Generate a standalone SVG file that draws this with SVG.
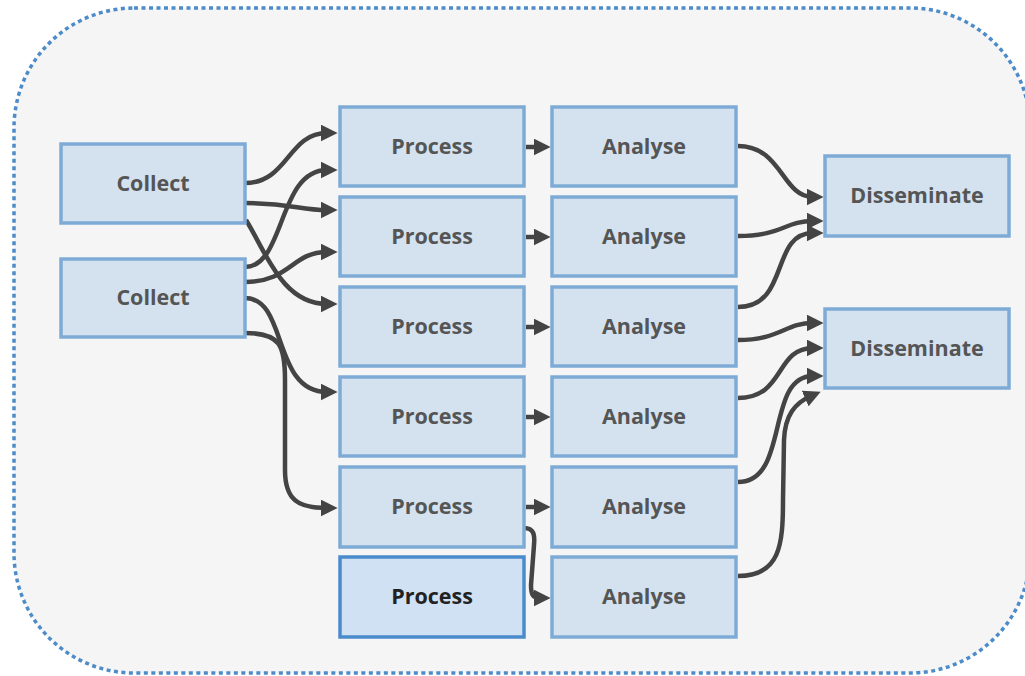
<svg xmlns="http://www.w3.org/2000/svg" width="1025" height="676" viewBox="0 0 1025 676">
<style>
.box{fill:#d4e2ef;stroke:#7eabd6;stroke-width:3.5}
.box.sel{fill:#cfe1f3;stroke:#4a8bcb}
.lbl{font-family:"Open Sans","Noto Sans",sans-serif;font-weight:bold;font-size:21.5px;fill:#555;text-anchor:middle}
.lbl.sel{fill:#222}
.edge{fill:none;stroke:#444;stroke-width:4.5}
</style>
<defs>
<marker id="ah" viewBox="0 0 16 16" refX="6" refY="8" markerWidth="17" markerHeight="17" markerUnits="userSpaceOnUse" orient="auto">
<path d="M0,0 L16,8 L0,16 z" fill="#444"/>
</marker>
</defs>
<rect x="0" y="0" width="1025" height="676" fill="#ffffff"/>
<rect id="frame" x="14" y="8" width="1016" height="665" rx="120" ry="120" fill="#f5f5f5" stroke="#4d8cc9" stroke-width="3.5" stroke-dasharray="4 3.5"/>
<g id="connectors">
<path class="edge" marker-end="url(#ah)" d="M245,183 C288,183 288,133 327,133"/>
<path class="edge" marker-end="url(#ah)" d="M245,203 C290,203 300,210 327,210"/>
<path class="edge" marker-end="url(#ah)" d="M246,220 C266,252 282,304 327,304"/>
<path class="edge" marker-end="url(#ah)" d="M245,267 C285,267 278,170 327,170"/>
<path class="edge" marker-end="url(#ah)" d="M245,282 C290,282 292,252 327,252"/>
<path class="edge" marker-end="url(#ah)" d="M245,298 C288,298 272,392 327,392"/>
<path class="edge" marker-end="url(#ah)" d="M245,333 C280,333 285,345 285,380 L285,470 C285,500 298,508 327,508"/>
<path class="edge" marker-end="url(#ah)" d="M526,147 L540,147"/>
<path class="edge" marker-end="url(#ah)" d="M526,237 L540,237"/>
<path class="edge" marker-end="url(#ah)" d="M526,327 L540,327"/>
<path class="edge" marker-end="url(#ah)" d="M526,417 L540,417"/>
<path class="edge" marker-end="url(#ah)" d="M526,507 L540,507"/>
<path class="edge" marker-end="url(#ah)" d="M524,528 C534,528 535,535 534,545 L531,585 C531,595 533,598 540,598"/>
<path class="edge" marker-end="url(#ah)" d="M738,146 C782,146 782,197 813,197"/>
<path class="edge" marker-end="url(#ah)" d="M738,236 C782,236 785,221 813,221"/>
<path class="edge" marker-end="url(#ah)" d="M738,307 C790,307 770,233 813,233"/>
<path class="edge" marker-end="url(#ah)" d="M738,340 C780,340 785,323 813,323"/>
<path class="edge" marker-end="url(#ah)" d="M738,398 C785,398 775,348 813,348"/>
<path class="edge" marker-end="url(#ah)" d="M738,482 C790,482 765,376 813,376"/>
<path class="edge" marker-end="url(#ah)" d="M738,576 C780,576 783,545 783,500 L784,440 C785,415 795,403 811,396"/>
</g>
<g id="collect1"><rect class="box" x="61" y="144" width="184" height="79"/><text class="lbl" x="153" y="191">Collect</text></g>
<g id="collect2"><rect class="box" x="61" y="259" width="184" height="78"/><text class="lbl" x="153" y="305">Collect</text></g>
<g id="process1"><rect class="box" x="340" y="107" width="184" height="79"/><text class="lbl" x="432" y="154">Process</text></g>
<g id="process2"><rect class="box" x="340" y="197" width="184" height="79"/><text class="lbl" x="432" y="244">Process</text></g>
<g id="process3"><rect class="box" x="340" y="287" width="184" height="79"/><text class="lbl" x="432" y="334">Process</text></g>
<g id="process4"><rect class="box" x="340" y="377" width="184" height="79"/><text class="lbl" x="432" y="424">Process</text></g>
<g id="process5"><rect class="box" x="340" y="467" width="184" height="80"/><text class="lbl" x="432" y="514">Process</text></g>
<g id="process6"><rect class="box sel" x="340" y="557" width="184" height="80"/><text class="lbl sel" x="432" y="604">Process</text></g>
<g id="analyse1"><rect class="box" x="552" y="107" width="184" height="79"/><text class="lbl" x="644" y="154">Analyse</text></g>
<g id="analyse2"><rect class="box" x="552" y="197" width="184" height="79"/><text class="lbl" x="644" y="244">Analyse</text></g>
<g id="analyse3"><rect class="box" x="552" y="287" width="184" height="79"/><text class="lbl" x="644" y="334">Analyse</text></g>
<g id="analyse4"><rect class="box" x="552" y="377" width="184" height="79"/><text class="lbl" x="644" y="424">Analyse</text></g>
<g id="analyse5"><rect class="box" x="552" y="467" width="184" height="80"/><text class="lbl" x="644" y="514">Analyse</text></g>
<g id="analyse6"><rect class="box" x="552" y="557" width="184" height="80"/><text class="lbl" x="644" y="604">Analyse</text></g>
<g id="disseminate1"><rect class="box" x="825" y="156" width="184" height="80"/><text class="lbl" x="917" y="203">Disseminate</text></g>
<g id="disseminate2"><rect class="box" x="825" y="309" width="184" height="79"/><text class="lbl" x="917" y="356">Disseminate</text></g>
</svg>
